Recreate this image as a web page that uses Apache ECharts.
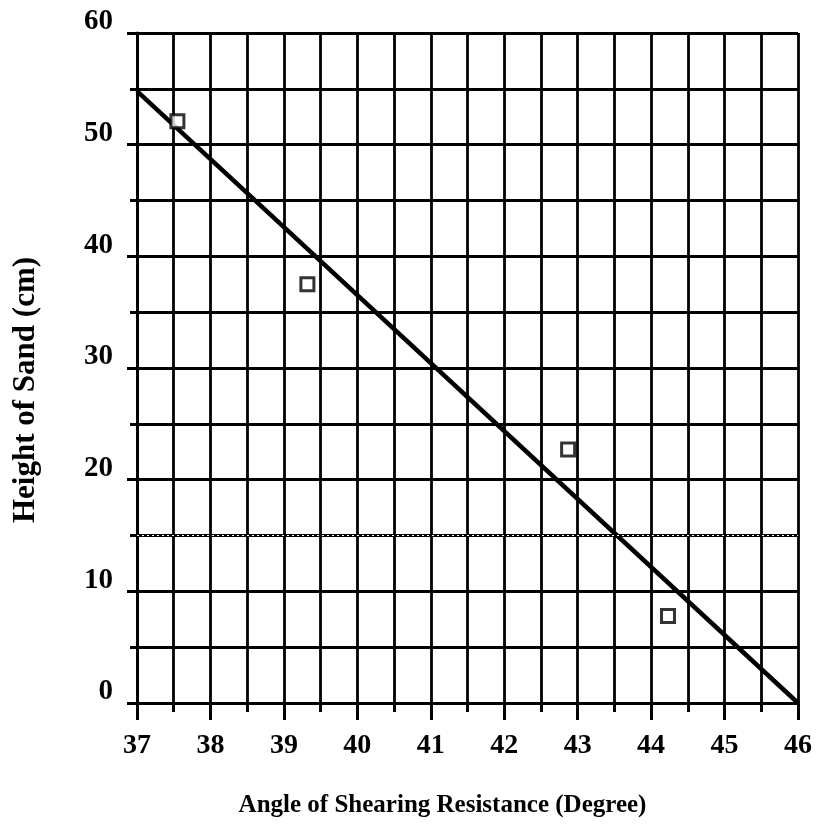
<!DOCTYPE html>
<html>
<head>
<meta charset="utf-8">
<script src="https://cdn.jsdelivr.net/npm/echarts@6/dist/echarts.min.js"></script>
<style>html,body{margin:0;padding:0;background:#fff;}#c{width:819px;height:829px;}</style>
</head>
<body>
<div id="c"></div>
<script>
const xName = 'Angle of Shearing Resistance (Degree)';
const yName = 'Height of Sand (cm)';
const pointsX = [37.55, 39.32, 42.87, 44.23];
const pointsY = [52.1, 37.5, 22.7, 7.8];
const fitX = [37, 46];
const fitY = [54.8, 0];
const dottedLevel = [15];

const font = 'Liberation Serif';
const chart = echarts.init(document.getElementById('c'));
chart.setOption({
  animation: false,
  backgroundColor: '#fff',
  grid: { left: 137, right: 21, top: 33, bottom: 126 },
  xAxis: {
    type: 'value', min: 37, max: 46, interval: 1,
    name: xName, nameLocation: 'middle', nameGap: 90,
    nameTextStyle: { fontFamily: font, fontWeight: 'bold', fontSize: 25, color: '#000', padding: [0, 50, 0, 0] },
    axisLine: { show: true, onZero: false, lineStyle: { color: '#000', width: 3 } },
    axisTick: { show: true, length: 17, lineStyle: { color: '#000', width: 3 } },
    minorTick: { show: true, splitNumber: 2, length: 9, lineStyle: { color: '#000', width: 3 } },
    splitLine: { show: true, lineStyle: { color: '#000', width: 2.8 } },
    minorSplitLine: { show: true, lineStyle: { color: '#000', width: 2.8 } },
    axisLabel: { fontFamily: font, fontWeight: 'bold', fontSize: 28, color: '#000', margin: 29 }
  },
  yAxis: {
    type: 'value', min: 0, max: 60, interval: 10,
    name: yName, nameLocation: 'middle', nameGap: 96, nameRotate: 90,
    nameTextStyle: { fontFamily: font, fontWeight: 'bold', fontSize: 31, color: '#000', padding: [0, 44, 0, 0] },
    axisLine: { show: true, onZero: false, lineStyle: { color: '#000', width: 3 } },
    axisTick: { show: true, length: 10, lineStyle: { color: '#000', width: 3 } },
    minorTick: { show: true, splitNumber: 2, length: 7, lineStyle: { color: '#000', width: 3 } },
    splitLine: { show: true, lineStyle: { color: '#000', width: 2.8 } },
    minorSplitLine: { show: true, lineStyle: { color: '#000', width: 2.8 } },
    axisLabel: { fontFamily: font, fontWeight: 'bold', fontSize: 29, lineHeight: 22, color: '#000', margin: 24, verticalAlign: 'bottom' }
  },
  series: [
    {
      type: 'line', data: [], z: 1, silent: true,
      markLine: {
        silent: true, symbol: 'none', label: { show: false },
        lineStyle: { color: '#fff', type: [2, 3], width: 1.2 },
        data: dottedLevel.map(v => ({ yAxis: v }))
      }
    },
    {
      type: 'line', z: 3, symbol: 'none',
      data: fitX.map((x, i) => [x, fitY[i]]),
      lineStyle: { color: '#000', width: 4.5 }
    },
    {
      type: 'scatter', z: 4, symbol: 'rect', symbolSize: 13,
      data: pointsX.map((x, i) => [x, pointsY[i]]),
      itemStyle: { color: '#fff', borderColor: '#000', borderWidth: 3 }
    }
  ]
});
</script>
</body>
</html>
